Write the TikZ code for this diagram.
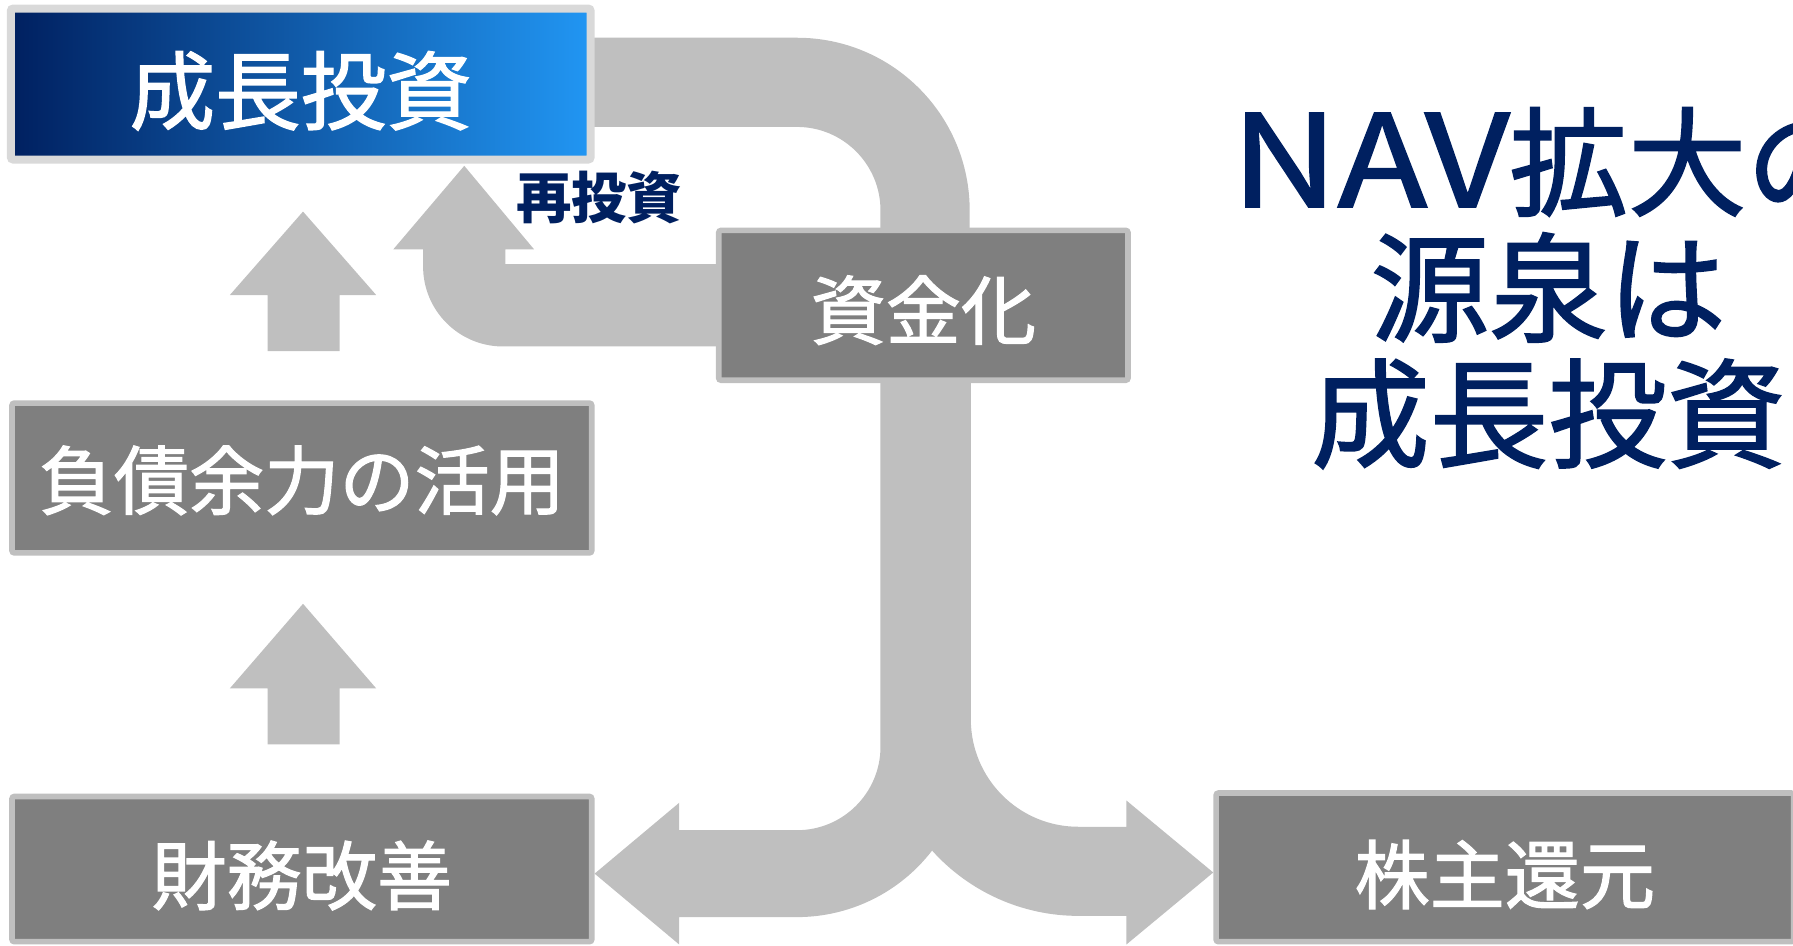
\documentclass[tikz,border=0pt]{standalone}
\usepackage{fontspec}
\usepackage{graphicx}
\newfontfamily\jp{Noto Sans CJK JP}[UprightFeatures={FakeBold=1.5}]
\definecolor{navy}{RGB}{0,32,96}
\definecolor{pipe}{RGB}{191,191,191}
\definecolor{boxfill}{RGB}{127,127,127}
\definecolor{boxline}{RGB}{191,191,191}
\definecolor{topline}{RGB}{217,217,217}
\definecolor{gradL}{RGB}{0,32,96}
\definecolor{gradR}{RGB}{33,150,243}
\newcommand{\lowr}[2]{\raisebox{-#1}[\height][\depth]{#2}}
\begin{document}
\begin{tikzpicture}[x=0.1mm,y=-0.1mm,
  graybox/.style={draw=boxline, line width=1.4pt, fill=boxfill, rounded corners=0.6pt,
    text=white, font=\jp\fontsize{18.7}{20}\selectfont, inner sep=0pt},
  pipeshape/.style={fill=pipe, draw=none}]
\useasboundingbox (0,0) rectangle (1568,827);
% pipes
\fill[pipeshape] (510,33) -- (697,33) arc[start angle=270, end angle=360, radius=151]
  -- (848,230) -- (770,230) -- (770,184) arc[start angle=0, end angle=-90, radius=73]
  -- (510,111) -- cycle;
\fill[pipeshape] (650,231) -- (442,231) -- (442,218) -- (467,218) -- (406,145) -- (344,218)
  -- (370,218) -- (370,233) arc[start angle=180, end angle=90, radius=70] -- (650,303) -- cycle;
\fill[pipeshape] (770,320) -- (770,653) arc[start angle=0, end angle=90, radius=73]
  -- (594,726) -- (594,702) -- (520,764) -- (594,826) -- (594,802) -- (697,802)
  arc[start angle=90, end angle=37.55, radius=149]
  arc[start angle=138.1, end angle=90, radius=172]
  -- (985,801) -- (985,826) -- (1061,763) -- (985,700) -- (985,723) -- (943,723)
  arc[start angle=90, end angle=180, radius=94] -- (849,320) -- cycle;
\fill[pipeshape] (234,307) -- (234,258) -- (201,258) -- (265,185) -- (329,258) -- (297,258) -- (297,307) -- cycle;
\fill[pipeshape] (234,651) -- (234,602) -- (201,602) -- (265,528) -- (329,602) -- (297,602) -- (297,651) -- cycle;
% boxes
\node[draw=topline, line width=2pt, left color=gradL, right color=gradR, rounded corners=0.6pt,
  minimum width=50.7mm, minimum height=13.2mm, inner sep=0pt, text=white,
  font=\jp\fontsize{21.3}{24}\selectfont] (grow) at (263,73.5) {\lowr{1.7pt}{成長投資}};
\node[graybox, minimum width=50.7mm, minimum height=13.1mm] (debt) at (264,418) {\lowr{0.6pt}{負債余力の活用}};
\node[graybox, minimum width=35.8mm, minimum height=13.1mm] (cash) at (807.5,267) {\lowr{1.2pt}{資金化}};
\node[graybox, minimum width=50.7mm, minimum height=12.7mm] (fin) at (264,760) {\lowr{1.6pt}{財務改善}};
\node[graybox, minimum width=50.5mm, minimum height=13.0mm] (ret) at (1316,758.5) {\lowr{1.8pt}{株主還元}};
% labels
\node[text=navy, font=\jp\bfseries\fontsize{13.8}{15}\selectfont, inner sep=0pt] (reinv) at (524,173) {再投資};
\node[text=navy, font=\jp\fontsize{29.5}{31.3}\selectfont, align=center, inner sep=0pt] (nav) at (1354,252) {\scalebox{1.24}[1.08]{NAV}拡大の\\源泉は\\成長投資};
\end{tikzpicture}
\end{document}
